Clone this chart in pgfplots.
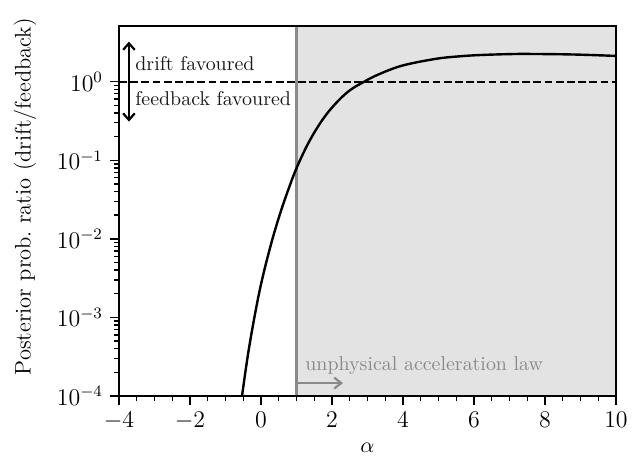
\documentclass[border=0pt]{standalone}
\usepackage{fontspec}
\usepackage{pgfplots}
\pgfplotsset{compat=1.18}
\usetikzlibrary{arrows.meta}
\definecolor{shade}{HTML}{E3E3E3}
\definecolor{midgray}{HTML}{8A8A8A}
\begin{document}
\begin{tikzpicture}
\begin{axis}[
  scale only axis, width=248.5bp, height=185bp,
  xmin=-4, xmax=10, ymode=log, ymin=1e-4, ymax=5.1,
  xtick={-4,-2,0,2,4,6,8,10}, minor x tick num=3,
  ytick={1e-4,1e-3,1e-2,1e-1,1},
  xtick pos=bottom, ytick pos=left, tick align=outside,
  major tick length=4.5bp, minor tick length=2.6bp,
  axis line style={line width=1bp},
  every tick/.style={black, line width=0.7bp},
  tick label style={font=\fontsize{12}{14}\selectfont},
  label style={font=\fontsize{11.3}{13}\selectfont},
  xlabel={$\alpha$},
  ylabel={Posterior prob.\ ratio (drift/feedback)},
  xlabel style={at={(axis description cs:0.5,0)}, yshift=-26bp, anchor=center},
  ylabel style={at={(axis description cs:-0.189,0.539)}, anchor=center},
  axis on top,
]
\addplot[draw=none, fill=shade] coordinates {(1,1e-5) (1,10) (10.5,10) (10.5,1e-5) (1,1e-5)};
\addplot[midgray, line width=1.1bp] coordinates {(1,1e-5) (1,10)};
\addplot[black, line width=1bp, dash pattern=on 3.9bp off 1.7bp] coordinates {(-4,1) (10,1)};
\addplot[black, line width=1.2bp, smooth, tension=0.6] coordinates {
(-0.60,6.03e-5) (-0.535,1.0e-4) (-0.33,4.27e-4) (-0.048,2.089e-3) (0.234,7.08e-3)
(0.516,1.95e-2) (0.797,4.57e-2) (1.03,8.51e-2) (1.36,0.1738) (1.74,0.3311)
(2.11,0.5309) (2.49,0.7674) (2.91,1.0) (3.33,1.245) (3.99,1.603) (4.93,1.950)
(5.6,2.099) (6.17,2.178) (7.0,2.239) (7.58,2.249) (8.8,2.213) (10,2.123)};
\addplot[black, line width=1.1bp, {Straight Barb[length=3.3bp, width=5.8bp]}-{Straight Barb[length=3.3bp, width=5.8bp]}] coordinates {(-3.72,0.31) (-3.72,3.23)};
\addplot[midgray, line width=1.1bp, -{Straight Barb[length=3.5bp, width=5.5bp]}] coordinates {(1,1.46e-4) (2.31,1.46e-4)};
\node[anchor=west, inner sep=0pt, font=\fontsize{10}{12}\selectfont, text=black!90] at (axis cs:-3.55,1.68) {drift favoured};
\node[anchor=west, inner sep=0pt, font=\fontsize{10}{12}\selectfont, text=black!90] at (axis cs:-3.55,0.60) {feedback favoured};
\node[anchor=west, inner sep=0pt, font=\fontsize{10}{12}\selectfont, text=midgray] at (axis cs:1.24,2.41e-4) {unphysical acceleration law};
\end{axis}
\pgfresetboundingbox
\path ([shift={(-59.5bp,-36.5bp)}]current axis.south west) rectangle ([shift={(14bp,13bp)}]current axis.north east);
\end{tikzpicture}
\end{document}
